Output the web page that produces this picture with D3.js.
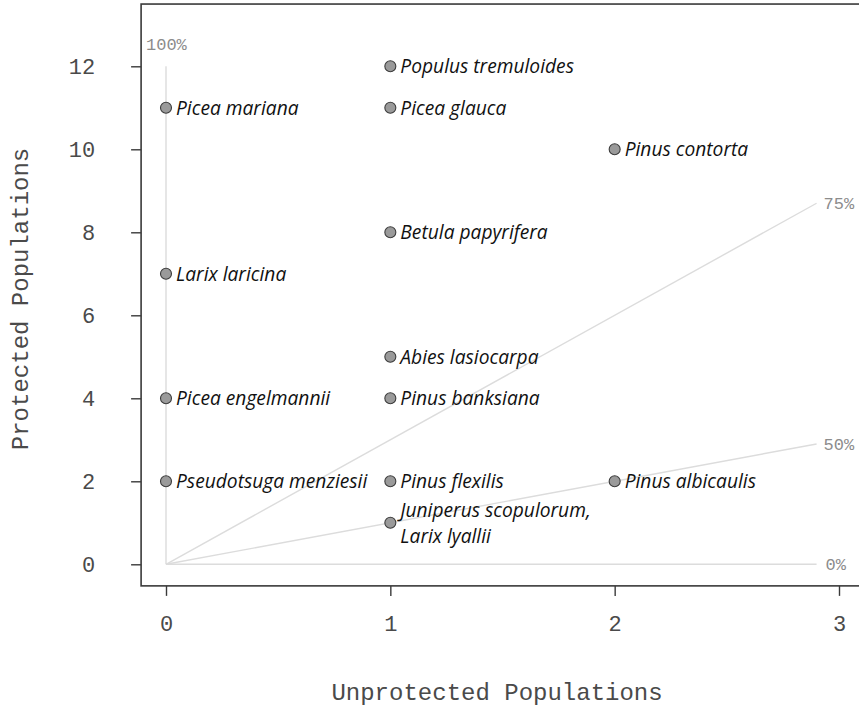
<!DOCTYPE html>
<html>
<head>
<meta charset="utf-8">
<script src="https://cdnjs.cloudflare.com/ajax/libs/d3/7.8.5/d3.min.js"></script>
<style>
  html, body { margin: 0; padding: 0; background: #fff; }
  svg { display: block; }
</style>
</head>
<body>
<svg id="chart" width="859" height="706"></svg>
<script>
// Species counts: unprotected vs protected populations
const species = [
  "Picea mariana", "Larix laricina", "Picea engelmannii", "Pseudotsuga menziesii",
  "Populus tremuloides", "Picea glauca", "Betula papyrifera", "Abies lasiocarpa",
  "Pinus banksiana", "Pinus flexilis", "Juniperus scopulorum,\nLarix lyallii",
  "Pinus contorta", "Pinus albicaulis"
];
const unprotected = [0, 0, 0, 0, 1, 1, 1, 1, 1, 1, 1, 2, 2];
const protectedPop = [11, 7, 4, 2, 12, 11, 8, 5, 4, 2, 1, 10, 2];

const xTicks = [0, 1, 2, 3];
const yTicks = [0, 2, 4, 6, 8, 10, 12];

// Share-protected guide lines: share p means protected = p/(1-p) * unprotected
const guideLabels = ["0%", "50%", "75%", "100%"];
const guideShares = [0, 0.5, 0.75, 1];
const guideEndU = 2.9;
const guideEndP = 12;

const svg = d3.select("#chart");
const x = d3.scaleLinear().domain([0, 3]).range([166, 839]);
const y = d3.scaleLinear().domain([0, 12]).range([564.3, 66.3]);

const mono = "'Liberation Mono', 'Courier New', monospace";
const labelFont = "'Open Sans', Lato, sans-serif";
const inkAxis = "#4a4a4a";

// plot frame
const x0 = x(-0.111), x1 = x(3.2), yTop = y(13.5), yBot = y(-0.52);
svg.append("rect")
  .attr("x", x0).attr("y", yTop)
  .attr("width", x1 - x0).attr("height", yBot - yTop)
  .attr("fill", "none").attr("stroke", "#3a3a3a").attr("stroke-width", 1.6);

// guide lines
const guides = svg.append("g");
guideShares.forEach((s, i) => {
  let endU, endP;
  if (s >= 1) { endU = 0; endP = guideEndP; }
  else { endU = guideEndU; endP = s / (1 - s) * guideEndU; }
  guides.append("line")
    .attr("x1", x(0)).attr("y1", y(0))
    .attr("x2", x(endU)).attr("y2", y(endP))
    .attr("stroke", "#dcdcdc").attr("stroke-width", 1.4);
  const t = guides.append("text")
    .attr("font-family", mono).attr("font-size", 17).attr("fill", "#8c8c8c")
    .text(guideLabels[i]);
  if (s >= 1) {
    t.attr("x", x(0) - 20).attr("y", y(endP) - 16);
  } else {
    t.attr("x", x(endU) + 7 + (s === 0 ? 2 : 0)).attr("y", y(endP)).attr("dy", "0.35em");
  }
});

// axes
const yAxis = d3.axisLeft(y).tickValues(yTicks).tickSize(10).tickPadding(36).tickFormat(d3.format("d"));
const gy = svg.append("g").attr("transform", `translate(${x0},0)`).call(yAxis);
const xAxis = d3.axisBottom(x).tickValues(xTicks).tickSize(10).tickPadding(20).tickFormat(d3.format("d"));
const gx = svg.append("g").attr("transform", `translate(0,${yBot})`).call(xAxis);
[gx, gy].forEach(g => {
  g.select(".domain").remove();
  g.selectAll(".tick line").attr("stroke", "#3a3a3a").attr("stroke-width", 1.4);
  g.selectAll(".tick text").attr("font-family", mono).attr("font-size", 22).attr("fill", inkAxis);
});

// axis titles
svg.append("text")
  .attr("x", (x0 + 859) / 2 - 3).attr("y", 700)
  .attr("text-anchor", "middle")
  .attr("font-family", mono).attr("font-size", 24).attr("fill", inkAxis)
  .text("Unprotected Populations");
svg.append("text")
  .attr("transform", `translate(28,${(yTop + yBot) / 2 + 4}) rotate(-90)`)
  .attr("text-anchor", "middle")
  .attr("font-family", mono).attr("font-size", 24).attr("fill", inkAxis)
  .text("Protected Populations");

// points and labels
const data = species.map((name, i) => ({ name, u: unprotected[i], p: protectedPop[i] }));
const pts = svg.append("g").selectAll("g").data(data).join("g")
  .attr("transform", d => `translate(${x(d.u)},${y(d.p)})`);
pts.append("circle")
  .attr("r", 5.5)
  .attr("fill", "#9a9a9a").attr("stroke", "#3c3c3c").attr("stroke-width", 1.1);
pts.append("text")
  .attr("font-family", labelFont).attr("font-style", "italic")
  .attr("font-size", 19.2).attr("fill", "#111")
  .each(function(d) {
    const lines = d.name.split("\n");
    const t = d3.select(this);
    const lh = 26;
    lines.forEach((ln, k) => {
      t.append("tspan")
        .attr("x", 10)
        .attr("y", (k - (lines.length - 1) / 2) * lh)
        .attr("dy", "0.35em")
        .text(ln);
    });
  });
</script>
</body>
</html>
